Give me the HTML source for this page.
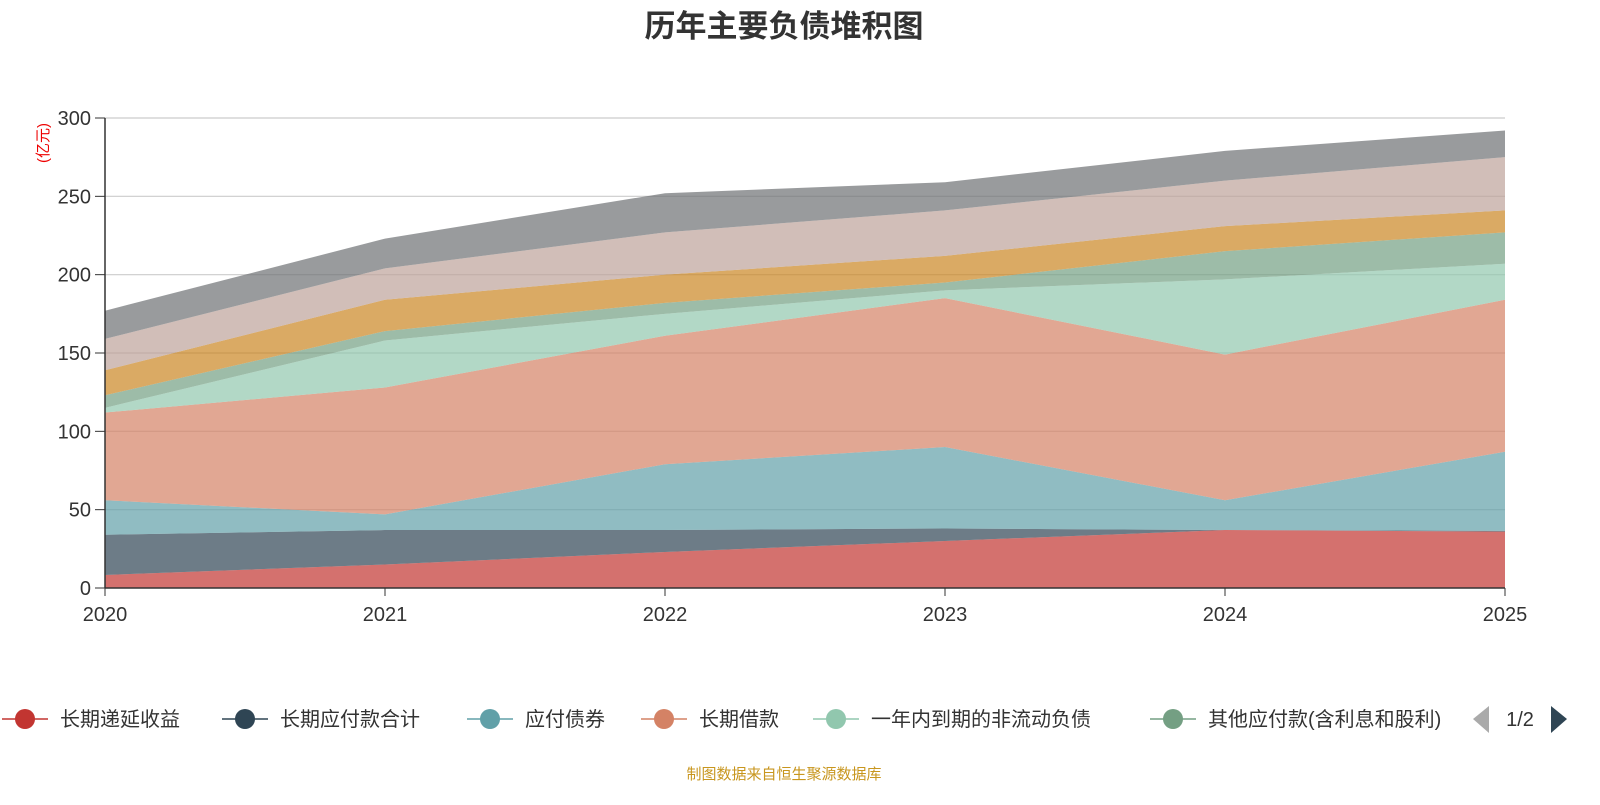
<!DOCTYPE html>
<html><head><meta charset="utf-8">
<style>
html,body{margin:0;padding:0;background:#fff;}
body{width:1600px;height:800px;overflow:hidden;font-family:"Liberation Sans","Noto Sans CJK SC",sans-serif;}
</style></head>
<body>
<svg id="chart" width="1600" height="800" xmlns="http://www.w3.org/2000/svg" font-family="Liberation Sans, Noto Sans CJK SC, sans-serif">
<text x="784" y="37" text-anchor="middle" font-size="31" font-weight="bold" fill="#333">历年主要负债堆积图</text>
<text transform="translate(48,143) rotate(-90)" text-anchor="middle" font-size="15" fill="#e00">(亿元)</text>
<g id="grid"></g>
<g id="areas"></g>
<g id="axes"></g>
<g id="legend"></g>
<text x="784" y="779" text-anchor="middle" font-size="15" fill="#c8961e">制图数据来自恒生聚源数据库</text>
</svg>
<script>
const years = ["2020","2021","2022","2023","2024","2025"];
const yTicks = [0,50,100,150,200,250,300];
const seriesNames = ["长期递延收益","长期应付款合计","应付债券","长期借款","一年内到期的非流动负债","其他应付款(含利息和股利)","应付账款","应付票据","其他流动负债"];
const seriesColors = ["#c23531","#2f4554","#61a0a8","#d48265","#91c7ae","#749f83","#ca8622","#bda29a","#6e7074"];
const s1 = [8.3,15,23,30,37,36];
const s2 = [25.7,22,14,8,0,0.5];
const s3 = [22,10,42,52,19,50.5];
const s4 = [56,81,82,95,93,97];
const s5 = [3,30,14,5,48,23];
const s6 = [8,6,7,5,18,20];
const s7 = [16,20,18,17,16,14];
const s8 = [20,20,27,29,29,34];
const s9 = [18,19,25,18,19,17];
const series = [s1,s2,s3,s4,s5,s6,s7,s8,s9];

const NS="http://www.w3.org/2000/svg";
const x0=105,x1=1505,y0=588,y1=118,yMax=300;
const xs=i=>x0+(x1-x0)*i/(years.length-1);
const ys=v=>y0-(y0-y1)*v/yMax;
function mk(tag,attrs,parent){const e=document.createElementNS(NS,tag);for(const k in attrs)e.setAttribute(k,attrs[k]);parent.appendChild(e);return e;}
const grid=document.getElementById('grid'),areas=document.getElementById('areas'),axes=document.getElementById('axes'),legend=document.getElementById('legend');

yTicks.forEach(t=>{
  if(t>0){const l=mk('line',{x1:x0,x2:x1,y1:ys(t),y2:ys(t),stroke:'#ccc','stroke-width':1.2},grid);
  
  }
  const tk=mk('line',{x1:x0-10,x2:x0,y1:ys(t),y2:ys(t),stroke:'#333'},axes);
  
  
  const tx=mk('text',{x:x0-14,y:ys(t)+7,'text-anchor':'end','font-size':20,fill:'#333'},axes);
  tx.textContent=t;
  
  
});

let base=years.map(()=>0);
series.forEach((s,k)=>{
  const top=base.map((b,i)=>b+s[i]);
  let d='M'+years.map((_,i)=>xs(i)+','+ys(top[i])).join(' L');
  for(let i=years.length-1;i>=0;i--) d+=' L'+xs(i)+','+ys(base[i]);
  d+='Z';
  const p=mk('path',{d:d,fill:seriesColors[k],'fill-opacity':0.7,stroke:'none'},areas);
  
  
  base=top;
});

const ax=mk('line',{x1:x0,x2:x1,y1:y0,y2:y0,stroke:'#333','stroke-width':1.5},axes);


const ay=mk('line',{x1:x0,x2:x0,y1:y1,y2:y0,stroke:'#333','stroke-width':1.5},axes);


years.forEach((y,i)=>{
  const tk=mk('line',{x1:xs(i),x2:xs(i),y1:y0,y2:y0+8,stroke:'#333'},axes);
  
  
  const tx=mk('text',{x:xs(i),y:621,'text-anchor':'middle','font-size':20,fill:'#333'},axes);
  tx.textContent=y;
  
  
});

const legX=[25,245,490,664,836,1173];
for(let k=0;k<6;k++){
  const g=mk('g',{},legend);
  
  
  mk('line',{x1:legX[k]-23,x2:legX[k]+23,y1:719,y2:719,stroke:seriesColors[k],'stroke-width':1.5},g);
  mk('circle',{cx:legX[k],cy:719,r:10,fill:seriesColors[k]},g);
  const t=mk('text',{x:legX[k]+35,y:726,'font-size':20,fill:'#333'},g);
  t.textContent=seriesNames[k];
}
const cover=mk('rect',{x:1462,y:700,width:138,height:40,fill:'#fff'},legend);


const prev=mk('path',{d:'M1489,706 L1473,719 L1489,733Z',fill:'#aaa'},legend);


const pg=mk('text',{x:1520,y:726,'text-anchor':'middle','font-size':20,fill:'#333'},legend);
pg.textContent='1/2';


const next=mk('path',{d:'M1551,706 L1567,719 L1551,733Z',fill:'#2f4554'},legend);


</script>
</body></html>
